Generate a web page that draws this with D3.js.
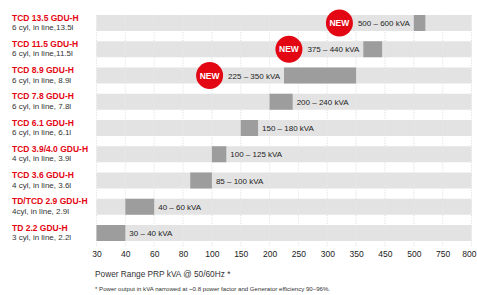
<!DOCTYPE html>
<html>
<head>
<meta charset="utf-8">
<script src="https://cdn.jsdelivr.net/npm/d3@7"></script>
<style>
  body { margin: 0; background: #fff; }
  text { font-family: "Liberation Sans", Arial, sans-serif; }
</style>
</head>
<body>
<div id="chart"></div>
<script>
const models = ['TCD 13.5 GDU-H', 'TCD 11.5 GDU-H', 'TCD 8.9 GDU-H', 'TCD 7.8 GDU-H', 'TCD 6.1 GDU-H',
  'TCD 3.9/4.0 GDU-H', 'TCD 3.6 GDU-H', 'TD/TCD 2.9 GDU-H', 'TD 2.2 GDU-H'];
const engines = ['6 cyl, in line,13.5l', '6 cyl, in line,11.5l', '6 cyl, in line, 8.9l', '6 cyl, in line, 7.8l',
  '6 cyl, in line, 6.1l', '4 cyl, in line, 3.9l', '4 cyl, in line, 3.6l', '4cyl, in line, 2.9l', '3 cyl, in line,  2.2l'];
const powerMin = [500, 375, 225, 200, 150, 100, 85, 40, 30];
const powerMax = [600, 440, 350, 240, 180, 125, 100, 60, 40];
const isNew = [true, true, true, false, false, false, false, false, false];
const ticks = [30, 40, 60, 80, 100, 150, 200, 250, 300, 350, 450, 500, 750, 800];

const width = 477, height = 295;
const x0 = 96.5, x1 = 471.5;
const red = '#e30613';

const svg = d3.select('#chart').append('svg')
  .attr('width', width)
  .attr('height', height);

// uneven axis: every tick gets the same spacing
const step = (x1 - x0) / (ticks.length - 1);
const x = d3.scaleLinear()
  .domain(ticks)
  .range(ticks.map((d, i) => x0 + i * step));

const y = d3.scalePoint()
  .domain(models)
  .range([23, 233]);
const bandH = 16;

// grid
svg.append('g')
  .selectAll('line')
  .data(ticks)
  .join('line')
  .attr('x1', d => x(d)).attr('x2', d => x(d))
  .attr('y1', 15).attr('y2', 247)
  .attr('stroke', '#cfcfcf')
  .attr('stroke-width', 0.7)
  .attr('stroke-dasharray', '1,1.5');

// light bands
svg.append('g')
  .selectAll('rect')
  .data(models)
  .join('rect')
  .attr('x', x0)
  .attr('y', d => y(d) - bandH / 2)
  .attr('width', x1 - x0)
  .attr('height', bandH)
  .attr('fill', '#e3e3e3');

// faint grid over bands
svg.append('g')
  .selectAll('line')
  .data(ticks.slice(1, -1))
  .join('line')
  .attr('x1', d => x(d)).attr('x2', d => x(d))
  .attr('y1', 15).attr('y2', 247)
  .attr('stroke', '#ededed')
  .attr('stroke-width', 0.6)
  .attr('stroke-dasharray', '1,1.5');

// power range bars
svg.append('g')
  .selectAll('rect')
  .data(models)
  .join('rect')
  .attr('x', (d, i) => x(powerMin[i]))
  .attr('y', d => y(d) - bandH / 2)
  .attr('width', (d, i) => x(powerMax[i]) - x(powerMin[i]))
  .attr('height', bandH)
  .attr('fill', '#9d9d9d');

// value labels and NEW badges
models.forEach((m, i) => {
  const cy = y(m);
  const label = svg.append('text')
    .attr('y', cy + 3)
    .attr('font-size', 8)
    .attr('fill', '#222')
    .text(`${powerMin[i]} – ${powerMax[i]} kVA`);

  if (isNew[i]) {
    const right = x(powerMin[i]) - 4;
    label.attr('x', right).attr('text-anchor', 'end');
    const start = right - label.node().getComputedTextLength();
    const cx = start - 18.5;
    svg.append('circle')
      .attr('cx', cx).attr('cy', cy)
      .attr('r', 13.5)
      .attr('fill', red);
    svg.append('text')
      .attr('x', cx).attr('y', cy + 3)
      .attr('text-anchor', 'middle')
      .attr('font-size', 8.5)
      .attr('font-weight', 'bold')
      .attr('fill', '#fff')
      .text('NEW');
  } else {
    label.attr('x', x(powerMax[i]) + 4);
  }
});

// model names
const names = svg.append('g');
models.forEach((m, i) => {
  names.append('text')
    .attr('x', 12).attr('y', y(m) - 2.5)
    .attr('font-size', 8.5)
    .attr('font-weight', 'bold')
    .attr('fill', red)
    .text(m);
  names.append('text')
    .attr('x', 12).attr('y', y(m) + 7)
    .attr('font-size', 8)
    .attr('fill', '#333')
    .text(engines[i]);
});

// axis
const axis = d3.axisBottom(x).tickValues(ticks).tickSize(0).tickPadding(0);
const ax = svg.append('g')
  .attr('transform', 'translate(0,251)')
  .call(axis);
ax.select('.domain').remove();
ax.selectAll('text')
  .attr('font-size', 8.5)
  .attr('fill', '#222')
  .attr('font-family', '"Liberation Sans", Arial, sans-serif');
// keep the last label inside the page
ax.selectAll('.tick:last-child text')
  .attr('text-anchor', 'end')
  .attr('x', width - 1 - x1);

svg.append('text')
  .attr('x', 95).attr('y', 277)
  .attr('font-size', 8.3)
  .attr('fill', '#333')
  .text('Power Range PRP kVA @ 50/60Hz *');

svg.append('text')
  .attr('x', 95).attr('y', 291)
  .attr('font-size', 6.1)
  .attr('fill', '#333')
  .text('* Power output in kVA narrowed at ~0.8 power factor and Generator efficiency 90–96%.');
</script>
</body>
</html>
